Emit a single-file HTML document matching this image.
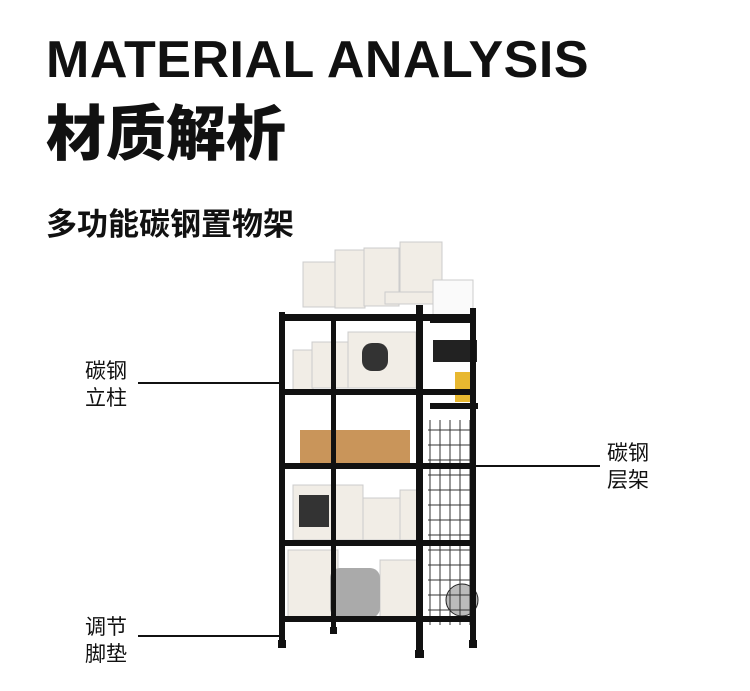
<!DOCTYPE html>
<html><head><meta charset="utf-8"><style>
body{margin:0;width:750px;height:691px;background:#fff;position:relative;overflow:hidden;font-family:"Liberation Sans","Noto Sans CJK SC",sans-serif;color:#111}
.t{position:absolute;white-space:nowrap}
</style></head><body>
<div class="t" style="left:46px;top:30px;font-size:52px;font-weight:bold;letter-spacing:0.5px">MATERIAL ANALYSIS</div>
<div class="t" style="left:46px;top:86px;font-size:60px;font-weight:900">材质解析</div>
<div class="t" style="left:46px;top:199px;font-size:31px;font-weight:bold">多功能碳钢置物架</div>
<div class="t" style="left:85px;top:358px;font-size:21px;line-height:27px">碳钢<br>立柱</div>
<div class="t" style="left:607px;top:440px;font-size:21px;line-height:27px">碳钢<br>层架</div>
<div class="t" style="left:85px;top:614px;font-size:21px;line-height:27px">调节<br>脚垫</div>
<svg width="750" height="691" style="position:absolute;left:0;top:0">
<g stroke="#111" stroke-width="2"><line x1="138" y1="383" x2="280" y2="383"/><line x1="475" y1="466" x2="600" y2="466"/><line x1="138" y1="636" x2="280" y2="636"/></g>
<g fill="#f1ede6" stroke="#ccc">
<rect x="303" y="262" width="32" height="45"/><rect x="335" y="250" width="30" height="58"/><rect x="364" y="248" width="35" height="58"/><rect x="400" y="242" width="42" height="52"/><rect x="385" y="292" width="50" height="12"/>
<rect x="433" y="280" width="40" height="40" fill="#fafafa"/>
<rect x="293" y="350" width="20" height="40"/><rect x="312" y="342" width="36" height="46"/><rect x="348" y="332" width="68" height="56"/>
<rect x="293" y="485" width="70" height="55"/><rect x="363" y="498" width="40" height="42"/><rect x="400" y="490" width="18" height="50"/>
<rect x="288" y="550" width="50" height="68"/><rect x="380" y="560" width="40" height="60"/>
</g>
<rect x="362" y="343" width="26" height="28" rx="10" fill="#333"/>
<rect x="299" y="495" width="30" height="32" fill="#333"/>
<rect x="300" y="430" width="110" height="33" fill="#c9955a"/>
<rect x="330" y="568" width="50" height="50" fill="#aaa" rx="10"/>
<rect x="455" y="372" width="20" height="30" fill="#e8b830"/>
<rect x="433" y="340" width="44" height="22" fill="#222"/>
<circle cx="462" cy="600" r="16" fill="#bbb" stroke="#222"/>
<g stroke="#333" stroke-width="1">
<path d="M430 420 V625 M440 420 V625 M450 420 V625 M460 420 V625 M470 420 V625 M428 430 H475 M428 445 H475 M428 460 H475 M428 475 H475 M428 490 H475 M428 505 H475 M428 520 H475 M428 535 H475 M428 550 H475 M428 565 H475 M428 580 H475 M428 595 H475 M428 610 H475"/>
</g>
<g fill="#111">
<rect x="279" y="312" width="6" height="335"/><rect x="416" y="305" width="7" height="350"/><rect x="470" y="308" width="6" height="338"/>
<rect x="331" y="315" width="5" height="315"/>
<rect x="282" y="314" width="190" height="7"/><rect x="282" y="389" width="190" height="6"/><rect x="282" y="463" width="190" height="6"/><rect x="282" y="540" width="190" height="6"/><rect x="282" y="616" width="190" height="6"/>
<rect x="430" y="403" width="48" height="6"/><rect x="430" y="318" width="44" height="5"/>
<rect x="278" y="640" width="8" height="8"/><rect x="415" y="650" width="9" height="8"/><rect x="469" y="640" width="8" height="8"/><rect x="330" y="627" width="7" height="7"/>
</g>
</svg>
</body></html>
